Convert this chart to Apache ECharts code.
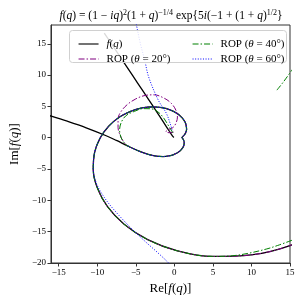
<!DOCTYPE html>
<html><head><meta charset="utf-8">
<script src="https://cdn.jsdelivr.net/npm/echarts@6/dist/echarts.min.js"></script>
<style>html,body{margin:0;padding:0;background:#fff}#c{width:302px;height:300px}</style>
</head><body><div id="c"></div>
<script>
// f(q) for q > -1 (increasing q)
const fUpper = [[-17.79,4.12],[-15.96,3.45],[-13.89,2.64],[-11.43,1.59],[-8.915,0.358],[-7.51,-0.432],
[-6.134,-1.258],[-4.569,-2.149],[-3.364,-2.673],[-2.342,-2.939],[-1.459,-3.002],[-0.710,-2.906],[-0.088,-2.695],
[0.774,-2.070],[1.185,-1.381],[1.279,-0.796],[1.203,-0.384],[1.084,-0.136],[1,0],[0.992,0.086],[1.074,0.185],
[1.240,0.373],[1.448,0.736],[1.590,1.361],[1.470,2.282],[1.234,2.831],[0.830,3.407],[0.234,3.965],[-0.571,4.449],
[-1.592,4.792],[-2.816,4.919],[-4.192,4.757],[-5.673,4.221],[-7.152,3.263],[-8.519,1.835],[-9.631,-0.058],
[-10.346,-2.378],[-10.516,-5.056],[-9.990,-7.994],[-8.690,-10.969],[-6.513,-13.813],[-3.457,-16.264],
[0.408,-18.06],[4.948,-18.952],[9.973,-18.703],[15.18,-17.13],[20.24,-14.13]];
// f(q) for q < -1
const fLower = [[-9.087,16.716],[-7.239,13.313],[-6.119,11.245],[-4.762,8.734],[-3.353,6.126],[-2.306,4.175],
[-1.576,2.801],[-1.001,1.708],[-0.646,1.035],[-0.382,0.543],[-0.196,0.224],[-0.0625,0.0425],[-0.015,0.004]];
// ROP theta=20: loop near the branch point, then joins f
const rop20Loop = [[-0.1,0.9],[-0.6,0.8],[-1.1,0.95],[-0.8,1.3],[-0.2,1.6],[0.2,2.3],[0.4,3.3],[0.2,4.4],
[-0.4,5.5],[-1.3,6.3],[-2.6,6.85],[-3.8,6.75],[-5.0,6.2],[-6.1,5.3],[-6.9,4.2],[-7.3,3.0],[-7.3,1.6],
[-7.0,0.3],[-6.6,-0.6]];
// ROP theta=40
const rop40Loop = [[-0.2,0.8],[-0.7,1.8],[-1.3,3.0],[-2.0,4.0],[-2.9,4.6],[-4.0,4.65],[-5.2,4.2],[-6.3,3.5],
[-6.9,2.4],[-7.1,1.2],[-6.9,0.0],[-6.5,-0.8]];
const rop40End = [[7.5,-18.85],[9.6,-18.45],[12.0,-17.75],[13.4,-17.2],[15.3,-16.35]];
const rop40Tail = [[13.3,7.6],[14.2,9.0],[15.3,10.9]];
// ROP theta=60
const rop60Top = [[-0.3,1.2],[-0.42,1.8],[-1.04,3.9],[-2.08,6.0],[-3.33,9.7],[-3.83,12.3],[-4.4,15.0],[-4.9,17.9],[-5.0,18.6]];
const rop60End = [[-10.1,-7.3],[-9.1,-9.5],[-7.9,-11.4],[-5.8,-14.2],[-3.75,-16.6],[-2.2,-18.3],[-0.9,-19.8],[-0.3,-20.6]];
const xTicks = [-15,-10,-5,0,5,10,15];
const yTicks = [-20,-15,-10,-5,0,5,10,15];

const rop20 = rop20Loop.concat(fUpper.slice(6));
const rop40 = rop40Loop.concat(fUpper.slice(6,44), rop40End);
const rop60 = fUpper.slice(6,38).concat(rop60End);

const FF = 'Liberation Serif';
const rich = {
  n:{fontFamily:FF,fontSize:11.5,color:'#000'},
  i:{fontFamily:FF,fontSize:11.5,fontStyle:'italic',color:'#000'},
  s:{fontFamily:FF,fontSize:8,color:'#000',verticalAlign:'top',lineHeight:6}
};
const lrich = {
  n:{fontFamily:FF,fontSize:11,color:'#000'},
  i:{fontFamily:FF,fontSize:11,fontStyle:'italic',color:'#000'}
};
const labels = {
  f:'{i|f}{n|(}{i|q}{n|)}',
  r20:'{n|ROP (}{i|θ}{n| = 20°)}',
  r40:'{n|ROP (}{i|θ}{n| = 40°)}',
  r60:'{n|ROP (}{i|θ}{n| = 60°)}'
};
const minus = v => String(v).replace('-', '\u2212');
function line(name, data, color, width, type){
  return {name, type:'line', data, showSymbol:false, symbol:'none', smooth:0.35,
    lineStyle:{color, width, type}, itemStyle:{color}, clip:true, animation:false};
}
const chart = echarts.init(document.getElementById('c'), null, {renderer:'canvas'});
const legendCommon = {orient:'vertical', itemWidth:20, itemHeight:10, itemGap:3, z:110,
  itemStyle:{opacity:0}, lineStyle:{width:1.1},
  textStyle:{fontFamily:FF,fontSize:11,lineHeight:12,rich:lrich, padding:[0,0,0,3]},
  formatter: n => labels[n]};
chart.setOption({
  animation:false,
  title:{text:'{i|f}{n|(}{i|q}{n|) = (1 − }{i|iq}{n|)}{s|2}{n|(1 + }{i|q}{n|)}{s|−1/4}{n| exp{5}{i|i}{n|(−1 + (1 + }{i|q}{n|)}{s|1/2}}',
    left:166, top:4, textAlign:'center',
    textStyle:{fontFamily:FF,fontSize:11.5,fontWeight:'normal',color:'#000',lineHeight:14,rich}},
  grid:{left:42,right:12,top:25,bottom:35,show:true,borderColor:'#333',borderWidth:1},
  legend:[
    Object.assign({left:73, top:33, data:['f','r20']}, legendCommon),
    Object.assign({left:187, top:33, data:['r40','r60']}, legendCommon)
  ],
  graphic:[{type:'rect', z:100, shape:{x:69.5,y:30.5,width:217,height:32,r:3},
    style:{fill:'rgba(255,255,255,0.85)', stroke:'#d0d0d0', lineWidth:1}}],
  xAxis:{type:'value', min:-16, max:15,
    name:'{n|Re[}{i|f}{n|(}{i|q}{n|)]}', nameLocation:'middle', nameGap:19,
    nameTextStyle:{rich:{n:{fontFamily:FF,fontSize:13,color:'#000'},i:{fontFamily:FF,fontSize:13,fontStyle:'italic',color:'#000'}}},
    axisLine:{show:true,onZero:false,lineStyle:{color:'#333',width:1}},
    axisTick:{show:true,customValues:xTicks,length:3.5,lineStyle:{color:'#333'}},
    axisLabel:{customValues:xTicks,formatter:minus,fontFamily:FF,fontSize:9,color:'#000',margin:5},
    splitLine:{show:false}},
  yAxis:{type:'value', min:-20, max:18,
    name:'{n|Im[}{i|f}{n|(}{i|q}{n|)]}', nameLocation:'middle', nameGap:27, nameRotate:90,
    nameTextStyle:{rich:{n:{fontFamily:FF,fontSize:13,color:'#000'},i:{fontFamily:FF,fontSize:13,fontStyle:'italic',color:'#000'}}},
    axisLine:{show:true,onZero:false,lineStyle:{color:'#333',width:1}},
    axisTick:{show:true,customValues:yTicks,length:3.5,lineStyle:{color:'#333'}},
    axisLabel:{customValues:yTicks,formatter:minus,fontFamily:FF,fontSize:9,color:'#000',margin:5},
    splitLine:{show:false}},
  series:[
    line('f', fUpper, '#000000', 1.3, 'solid'),
    line('f', fLower, '#000000', 1.3, 'solid'),
    line('r20', rop20, '#800080', 1, [6,2,1.5,2]),
    line('r40', rop40, '#008000', 1, [6,2,1.5,2]),
    line('r40', rop40Tail, '#008000', 1, [6,2,1.5,2]),
    line('r60', rop60, '#0000ff', 1, [1,1.6]),
    line('r60', rop60Top, '#0000ff', 1, [1,1.6])
  ]
});
</script></body></html>
